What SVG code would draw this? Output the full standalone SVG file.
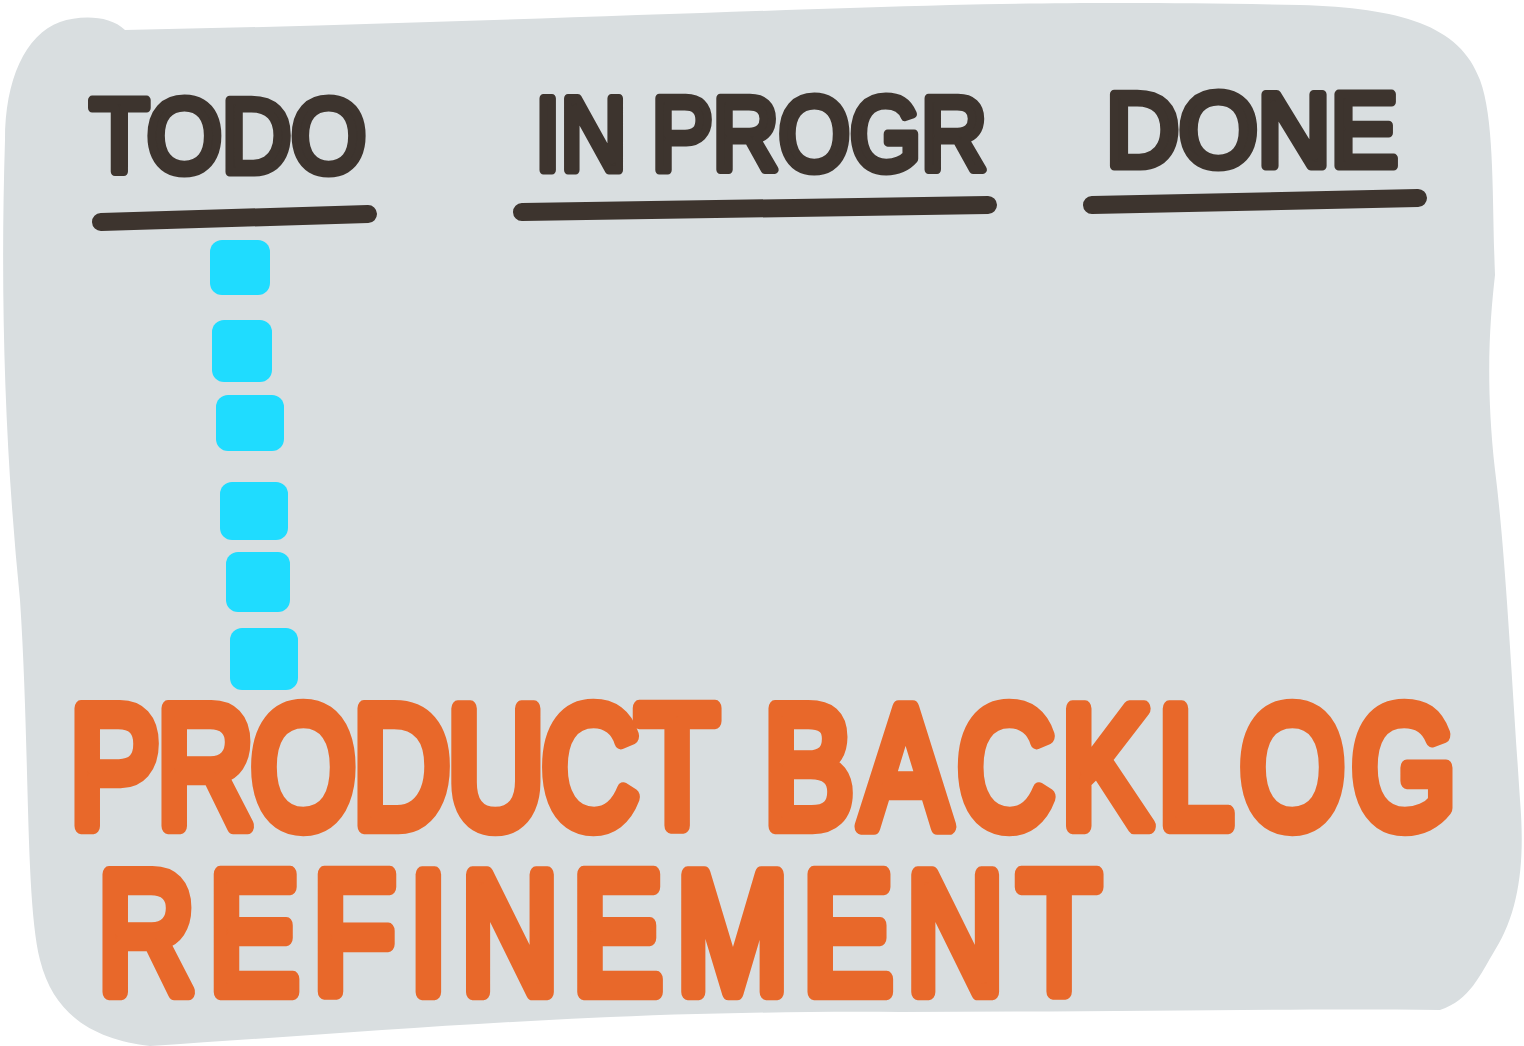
<svg xmlns="http://www.w3.org/2000/svg" width="1524" height="1046" viewBox="0 0 1524 1046">
<style>
.hd{font-family:"Liberation Sans",Arial,sans-serif;font-weight:normal;fill:#3d342e;stroke:#3d342e;stroke-width:9;stroke-linejoin:round;font-size:104px}
.big{font-family:"Liberation Sans",Arial,sans-serif;font-weight:normal;fill:#e8682a;stroke:#e8682a;stroke-width:13;stroke-linejoin:round;font-size:134px}
.ul{stroke:#3d342e;stroke-width:18;stroke-linecap:round;fill:none}
.dash{fill:#1fdcff}
</style>
<path id="board" d="M125,30 C110,15 80,15 60,22 C25,35 5,80 5,140 C0,300 5,450 20,600 C30,750 25,900 40,960 C55,1020 100,1040 150,1046 C400,1030 600,1010 900,1012 C1100,1012 1300,1008 1440,1010 C1470,1000 1480,975 1495,950 C1520,910 1525,860 1520,800 C1510,650 1505,550 1495,470 C1485,380 1490,320 1495,275 C1492,200 1495,120 1480,80 C1460,25 1400,8 1300,5 C1150,2 1050,3 950,5 C700,12 400,25 125,30 Z" fill="#d9dee0"/>
<g id="col-todo">
<text class="hd" x="90" y="172" textLength="276" lengthAdjust="spacingAndGlyphs">TODO</text>
<line class="ul" x1="101" y1="222" x2="368" y2="214"/>
</g>
<g id="col-inprogress">
<text class="hd" x="535" y="170" textLength="452" lengthAdjust="spacingAndGlyphs">IN PROGR</text>
<line class="ul" x1="522" y1="212" x2="988" y2="205"/>
</g>
<g id="col-done">
<text class="hd" x="1106" y="166" textLength="292" lengthAdjust="spacingAndGlyphs">DONE</text>
<line class="ul" x1="1092" y1="205" x2="1418" y2="198"/>
</g>
<g id="backlog-column">
<rect class="dash" x="210" y="240" width="60" height="55" rx="12"/>
<rect class="dash" x="212" y="320" width="60" height="62" rx="12"/>
<rect class="dash" x="216" y="395" width="68" height="56" rx="12"/>
<rect class="dash" x="220" y="482" width="68" height="58" rx="12"/>
<rect class="dash" x="226" y="552" width="64" height="60" rx="12"/>
<rect class="dash" x="230" y="628" width="68" height="62" rx="12"/>
</g>
<g id="title">
<text class="big" transform="translate(70,826) scale(1,1.27)" x="0" y="0" textLength="648" lengthAdjust="spacing">PRODUCT</text>
<text class="big" transform="translate(764,826) scale(1,1.27)" x="0" y="0" textLength="692" lengthAdjust="spacing">BACKLOG</text>
<text class="big" transform="translate(98,992) scale(1,1.27)" x="0" y="0" textLength="1002" lengthAdjust="spacing">REFINEMENT</text>
</g>
</svg>
